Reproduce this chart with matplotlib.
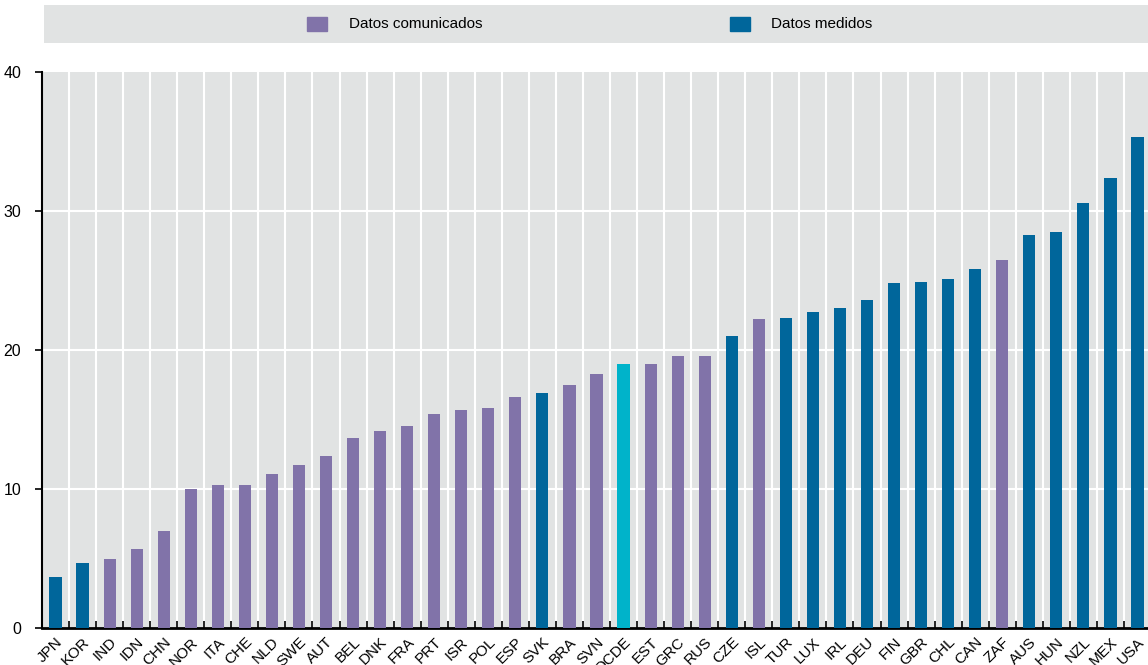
import matplotlib.pyplot as plt
import matplotlib.patches as mpatches

# Data
countries = ['JPN', 'KOR', 'IND', 'IDN', 'CHN', 'NOR', 'ITA', 'CHE', 'NLD', 'SWE',
             'AUT', 'BEL', 'DNK', 'FRA', 'PRT', 'ISR', 'POL', 'ESP', 'SVK', 'BRA',
             'SVN', 'OCDE', 'EST', 'GRC', 'RUS', 'CZE', 'ISL', 'TUR', 'LUX', 'IRL',
             'DEU', 'FIN', 'GBR', 'CHL', 'CAN', 'ZAF', 'AUS', 'HUN', 'NZL', 'MEX', 'USA']
values = [3.7, 4.7, 5.0, 5.7, 7.0, 10.0, 10.3, 10.3, 11.1, 11.7,
          12.4, 13.7, 14.2, 14.5, 15.4, 15.7, 15.8, 16.6, 16.9, 17.5,
          18.3, 19.0, 19.0, 19.6, 19.6, 21.0, 22.2, 22.3, 22.7, 23.0,
          23.6, 24.8, 24.9, 25.1, 25.8, 26.5, 28.3, 28.5, 30.6, 32.4, 35.3]
# 'r' = reported (comunicados), 'm' = measured (medidos), 'o' = OECD average
data_type = ['m', 'm', 'r', 'r', 'r', 'r', 'r', 'r', 'r', 'r',
             'r', 'r', 'r', 'r', 'r', 'r', 'r', 'r', 'm', 'r',
             'r', 'o', 'r', 'r', 'r', 'm', 'r', 'm', 'm', 'm',
             'm', 'm', 'm', 'm', 'm', 'r', 'm', 'm', 'm', 'm', 'm']
legend_labels = ['Datos comunicados', 'Datos medidos']

########## Style ##########
c_rep  = '#8173A9'
c_mea  = '#00669B'
c_oecd = '#00B3CA'
c_bg   = '#E1E3E3'
type_colors = {'r': c_rep, 'm': c_mea, 'o': c_oecd}

plt.rcParams['font.family'] = ['Liberation Sans', 'DejaVu Sans']

W, H = 1148, 665
fig = plt.figure(figsize=(W / 100, H / 100), dpi=100)

# Main axes (right edge slightly beyond the figure, as in the reference)
ax = fig.add_axes([42 / W, 1 - 628 / H, 1109 / W, 556 / H])
ax.set_facecolor(c_bg)
x = range(len(countries))
bar_colors = [type_colors[t] for t in data_type]
ax.bar(x, values, width=0.45, color=bar_colors, zorder=3)

ax.set_xlim(-0.5, len(countries) - 0.5)
ax.set_ylim(0, 40)
ax.set_yticks([0, 10, 20, 30, 40])
ax.tick_params(axis='y', labelsize=11.5, length=5, width=1.2, direction='out', pad=10)

# category boundaries -> white vertical gridlines + small inward ticks
bounds = [i + 0.5 for i in range(len(countries) - 1)]
for b in bounds:
    ax.axvline(b, color='white', lw=1.5, zorder=1)
for yv in [10, 20, 30]:
    ax.axhline(yv, color='white', lw=1.5, zorder=1)
ax.set_xticks(bounds, minor=True)
ax.tick_params(axis='x', which='minor', direction='in', length=5, width=1.2, color='black')
ax.set_xticks(list(x))
ax.set_xticklabels(countries, rotation=45, ha='right', rotation_mode='anchor', fontsize=11)
ax.tick_params(axis='x', which='major', length=0, pad=5)

for s in ['top', 'right']:
    ax.spines[s].set_visible(False)
ax.spines['left'].set_linewidth(1.5)
ax.spines['bottom'].set_linewidth(2)

# Legend strip
lax = fig.add_axes([44 / W, 1 - 43 / H, 1104 / W, 38 / H])
lax.set_facecolor(c_bg)
lax.set_xlim(44, 1148)
lax.set_ylim(43, 5)
for s in lax.spines.values():
    s.set_visible(False)
lax.set_xticks([])
lax.set_yticks([])
lax.add_patch(mpatches.Rectangle((307, 17), 20, 14, color=c_rep))
lax.text(349, 24.5, legend_labels[0], fontsize=11, va='center', ha='left')
lax.add_patch(mpatches.Rectangle((730, 17), 20, 14, color=c_mea))
lax.text(771, 24.5, legend_labels[1], fontsize=11, va='center', ha='left')

fig.savefig('out.png', dpi=100)
